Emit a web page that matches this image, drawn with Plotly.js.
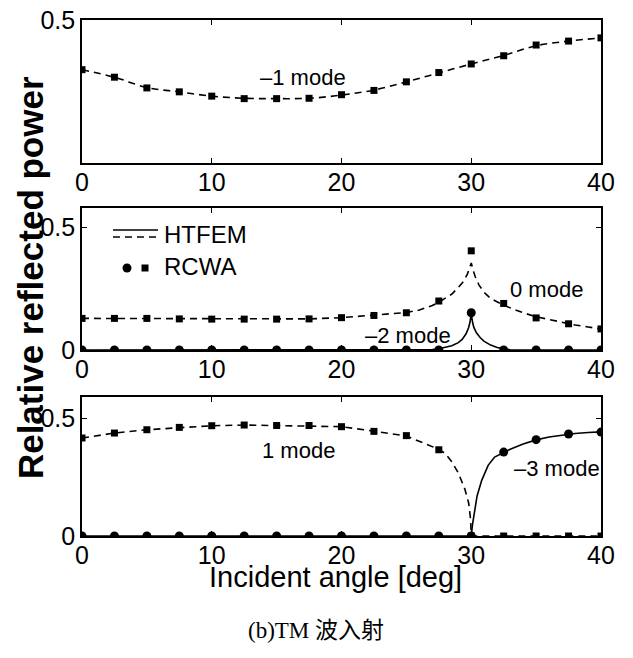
<!DOCTYPE html>
<html>
<head>
<meta charset="utf-8">
<script src="https://cdn.plot.ly/plotly-3.0.1.min.js"></script>
<style>html,body{margin:0;padding:0;background:#fff;}#chart{width:633px;height:658px;}</style>
</head>
<body>
<div id="chart"></div>
<script>
// ---------- data ----------
const angleRCWA = [0,2.5,5,7.5,10,12.5,15,17.5,20,22.5,25,27.5,30,32.5,35,37.5,40];

// panel 1 : -1 mode
const m1RCWA = [0.361,0.340,0.310,0.299,0.287,0.280,0.280,0.281,0.291,0.303,0.327,0.353,0.377,0.400,0.430,0.441,0.450];
const m1HTx  = [0,2.5,5,7.5,10,12.5,15,17.5,20,22.5,25,27.5,30,32.5,35,37.5,40];
const m1HTy  = [0.361,0.340,0.311,0.299,0.287,0.281,0.280,0.281,0.290,0.304,0.327,0.352,0.377,0.401,0.428,0.441,0.450];

// panel 2 : 0 mode (squares, dashed) and -2 mode (circles, solid)
const m0RCWA  = [0.129,0.129,0.129,0.127,0.126,0.126,0.126,0.127,0.132,0.141,0.152,0.200,0.405,0.190,0.131,0.107,0.086];
const m0HTx   = [0,2.5,5,7.5,10,12.5,15,17.5,20,22.5,25,26,27,27.5,28,28.5,29,29.4,29.7,29.9,30,30.1,30.3,30.6,31,31.5,32,32.5,33,34,35,36,37,37.5,38,39,40];
const m0HTy   = [0.129,0.129,0.129,0.127,0.126,0.126,0.126,0.127,0.132,0.141,0.153,0.163,0.182,0.195,0.210,0.228,0.255,0.280,0.310,0.335,0.355,0.335,0.300,0.265,0.235,0.210,0.195,0.183,0.172,0.152,0.136,0.124,0.113,0.107,0.102,0.094,0.086];
const mm2RCWA = [0,0,0,0,0,0,0,0,0,0,0,0,0.152,0,0,0,0];
const mm2HTx  = [0,5,10,15,20,25,27,27.5,28,28.5,29,29.3,29.6,29.8,29.9,30,30.1,30.2,30.4,30.7,31,31.5,32,32.5,33,35,40];
const mm2HTy  = [0,0,0,0,0,0,0.002,0.005,0.010,0.017,0.030,0.043,0.066,0.092,0.113,0.148,0.113,0.092,0.070,0.050,0.035,0.020,0.010,0.004,0.001,0,0];

// panel 3 : 1 mode (squares, dashed) and -3 mode (circles, solid)
const m1pRCWA = [0.416,0.437,0.451,0.461,0.468,0.471,0.469,0.469,0.464,0.444,0.426,0.366,0,0,0,0,0];
const m1pHTx  = [0,2.5,5,7.5,10,12.5,15,17.5,20,22.5,25,27.5,28,28.5,29,29.5,29.8,29.95,30,32.5,35,37.5,40];
const m1pHTy  = [0.416,0.437,0.451,0.461,0.468,0.471,0.469,0.469,0.464,0.445,0.424,0.368,0.350,0.315,0.268,0.200,0.140,0.070,0,0,0,0,0];
const mm3RCWA = [0,0,0,0,0,0,0,0,0,0,0,0,0,0.356,0.409,0.433,0.441];
const mm3HTx  = [0,10,20,30,30.1,30.25,30.45,30.8,31.3,31.8,32.5,33,34,35,36,37,38,39,40];
const mm3HTy  = [0,0,0,0,0.050,0.110,0.170,0.235,0.300,0.335,0.356,0.368,0.390,0.408,0.420,0.429,0.435,0.439,0.442];

const xTicks = [0,10,20,30,40];
const modeLabels = ['–1 mode','0 mode','–2 mode','1 mode','–3 mode'];
const legendLabels = ['HTFEM','RCWA'];
const xTitle = 'Incident angle [deg]';
const yTitle = 'Relative reflected power';
const caption = '(b)TM 波入射';

// ---------- style ----------
const SANS = "'Liberation Sans', Arial, Helvetica, sans-serif";
const dashLine = {color:'#000', width:1.6, dash:'7px,5px'};
const solidLine = {color:'#000', width:1.6};
const sq = {symbol:'square', size:7, color:'#000'};
const ci = {symbol:'circle', size:9, color:'#000'};

function tr(x,y,ax,mode,line,marker){
  const t = {x:x, y:y, xaxis:'x'+ax, yaxis:'y'+ax, mode:mode, showlegend:false, hoverinfo:'skip'};
  if(line) t.line = line;
  if(marker) t.marker = marker;
  return t;
}

const data = [
  tr(m1HTx, m1HTy, '', 'lines', Object.assign({shape:'spline'}, dashLine)),
  tr(angleRCWA, m1RCWA, '', 'markers', null, sq),

  tr(m0HTx, m0HTy, '2', 'lines', dashLine),
  tr(mm2HTx, mm2HTy, '2', 'lines', solidLine),
  tr(angleRCWA, m0RCWA, '2', 'markers', null, sq),
  tr(angleRCWA, mm2RCWA, '2', 'markers', null, ci),

  tr(m1pHTx, m1pHTy, '3', 'lines', dashLine),
  tr(mm3HTx, mm3HTy, '3', 'lines', solidLine),
  tr(angleRCWA, m1pRCWA, '3', 'markers', null, sq),
  tr(angleRCWA, mm3RCWA, '3', 'markers', null, ci)
];

function xax(anchor){
  return {anchor:anchor, range:[0,40], tickvals:xTicks, ticktext:xTicks.map(String),
    ticks:'inside', ticklen:5, tickwidth:1.2, tickcolor:'#000', mirror:'allticks',
    showline:true, linecolor:'#000', linewidth:1.8, showgrid:false, zeroline:false,
    tickfont:{family:SANS, size:25, color:'#000'}, ticklabelstandoff:-4};
}
function yax(anchor, dom, rng, tv){
  return {anchor:anchor, domain:dom, range:rng, tickvals:tv, ticktext:tv.map(v=>String(v)),
    ticks:'inside', ticklen:5, tickwidth:1.2, tickcolor:'#000', mirror:'allticks',
    showline:true, linecolor:'#000', linewidth:1.8, showgrid:false, zeroline:false,
    tickfont:{family:SANS, size:25, color:'#000'}, ticklabelstandoff:0};
}

function ann(xref, yref, x, y, text, size, extra){
  return Object.assign({xref:xref, yref:yref, x:x, y:y, text:text, showarrow:false,
    xanchor:'center', yanchor:'middle', font:{family:SANS, size:size, color:'#000'}}, extra||{});
}

const layout = {
  width:633, height:658, margin:{l:82, r:32, t:20, b:122},
  paper_bgcolor:'#fff', plot_bgcolor:'#fff', showlegend:false,
  xaxis: xax('y'), yaxis: yax('x', [0.7229,1], [0.1,0.5], [0.5]),
  xaxis2: xax('y2'), yaxis2: yax('x2', [0.3605,0.6357], [0,0.58], [0,0.5]),
  xaxis3: xax('y3'), yaxis3: yax('x3', [0,0.2694], [0,0.59], [0,0.5]),
  annotations: [
    ann('x', 'y', 17, 0.34, modeLabels[0], 22),
    ann('x2', 'y2', 35.8, 0.246, modeLabels[1], 22),
    ann('x2', 'y2', 25.1, 0.06, modeLabels[2], 22),
    ann('x3', 'y3', 16.7, 0.364, modeLabels[3], 22),
    ann('x3', 'y3', 36.6, 0.288, modeLabels[4], 22),
    ann('paper', 'paper', 0.154, 0.585, legendLabels[0], 24, {xanchor:'left'}),
    ann('paper', 'paper', 0.154, 0.522, legendLabels[1], 24, {xanchor:'left'}),
    ann('paper', 'paper', -0.1, 0.5, '<b>'+yTitle+'</b>', 35, {textangle:-90}),
    ann('paper', 'paper', 0.4875, -0.0795, xTitle, 29),
    {xref:'paper', yref:'paper', x:0.451, y:-0.184, text:caption, showarrow:false, xanchor:'center', yanchor:'middle',
     font:{family:"'Liberation Serif', 'Noto Sans CJK SC', serif", size:23, color:'#000'}}
  ],
  shapes: [
    {type:'line', xref:'paper', yref:'paper', x0:0.0597, x1:0.1464, y0:0.593, y1:0.593, line:{color:'#000', width:1.6}},
    {type:'line', xref:'paper', yref:'paper', x0:0.0597, x1:0.1464, y0:0.5795, y1:0.5795, line:{color:'#000', width:1.6, dash:'7px,5px'}},
    {type:'circle', xref:'paper', yref:'paper', xsizemode:'pixel', ysizemode:'pixel', xanchor:0.0867, yanchor:0.5194, x0:-4.5, x1:4.5, y0:-4.5, y1:4.5, fillcolor:'#000', line:{width:0}},
    {type:'rect', xref:'paper', yref:'paper', xsizemode:'pixel', ysizemode:'pixel', xanchor:0.1214, yanchor:0.5194, x0:-3.5, x1:3.5, y0:-3.5, y1:3.5, fillcolor:'#000', line:{width:0}}
  ]
};

Plotly.newPlot('chart', data, layout, {staticPlot:true, displayModeBar:false});
</script>
</body>
</html>
